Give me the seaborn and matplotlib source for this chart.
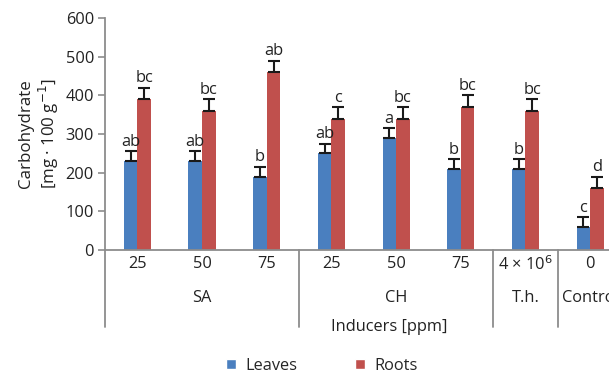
import matplotlib
matplotlib.use("Agg")
import matplotlib.pyplot as plt
import seaborn as sns
import pandas as pd
from matplotlib.patches import Patch

# ---- data ----
categories = ["SA 25", "SA 50", "SA 75", "CH 25", "CH 50", "CH 75", "T.h.", "Control"]
tick_labels = ["25", "50", "75", "25", "50", "75", r"4 × 10$^{6}$", "0"]
groups = ["SA", "CH", "T.h.", "Control"]
group_sizes = [3, 3, 1, 1]
leaves = [230, 230, 190, 250, 290, 210, 210, 60]
roots = [390, 360, 460, 340, 340, 370, 360, 160]
leaves_err = [25, 25, 25, 25, 25, 25, 25, 25]
roots_err = [30, 30, 30, 30, 30, 30, 30, 30]
leaves_letters = ["ab", "ab", "b", "ab", "a", "b", "b", "c"]
roots_letters = ["bc", "bc", "ab", "c", "bc", "bc", "bc", "d"]
series = ["Leaves", "Roots"]

df = pd.DataFrame({
    "cat": categories * 2,
    "val": leaves + roots,
    "series": ["Leaves"] * len(categories) + ["Roots"] * len(categories),
})

sns.set_theme(style="white")
plt.rcParams["font.family"] = ["Open Sans", "DejaVu Sans"]

BLUE = "#4a7fbf"
RED = "#c0504d"
GRAY = "#8c8c8c"
TXT = "#222222"
FS = 11.8

fig = plt.figure(figsize=(6.09, 3.74), dpi=100)
ax = fig.add_axes([105 / 609, 124 / 374, 517.5 / 609, 232 / 374])

sns.barplot(data=df, x="cat", y="val", hue="series", order=categories,
            hue_order=series, palette=[BLUE, RED], width=0.42, gap=0,
            errorbar=None, legend=False, ax=ax, saturation=1, edgecolor="none")

ax.set_ylim(0, 600)
ax.set_xlim(-0.5, 7.5)
ax.set_yticks(range(0, 601, 100))
ax.tick_params(axis="y", which="both", left=True, length=5, width=1.2, color=GRAY,
               labelsize=FS, labelcolor=TXT, pad=3)
ax.set_xticks(range(len(categories)))
ax.set_xticklabels(tick_labels)
ax.tick_params(axis="x", length=0, labelsize=FS, labelcolor=TXT, pad=4)
for s in ["top", "right"]:
    ax.spines[s].set_visible(False)
for s in ["left", "bottom"]:
    ax.spines[s].set_color(GRAY)
    ax.spines[s].set_linewidth(1.3)
ax.set_xlabel("")
ax.set_ylabel("Carbohydrate\n[mg · 100 g$^{-1}$]", fontsize=FS + 0.4, color=TXT,
              labelpad=3, linespacing=1.15)

# error bars and letters using bar positions
n = len(categories)
bars = [p for p in ax.patches if p.get_height() > 0]
leaf_bars = bars[:n]
root_bars = bars[n:2 * n]
for blist, errs, letters in [(leaf_bars, leaves_err, leaves_letters),
                             (root_bars, roots_err, roots_letters)]:
    for b, e, l in zip(blist, errs, letters):
        xc = b.get_x() + b.get_width() / 2
        h = b.get_height()
        ax.errorbar(xc, h, yerr=[[0], [e]], fmt="none", ecolor="#1a1a1a",
                    elinewidth=1.5, capsize=4, capthick=1.5)
        ax.annotate(l, (xc, h + e), xytext=(0, 1.0), textcoords="offset points",
                    ha="center", va="bottom", fontsize=FS, color=TXT)

# group separators and labels
trans = ax.get_xaxis_transform()
bounds = [-0.5]
for g in group_sizes:
    bounds.append(bounds[-1] + g)
for bx in bounds[:-1]:
    ax.plot([bx, bx], [0, -0.33], transform=trans, color=GRAY, lw=1.3, clip_on=False)
for i, g in enumerate(groups):
    xc = (bounds[i] + bounds[i + 1]) / 2
    ax.text(xc, -0.205, g, transform=trans, ha="center", va="center",
            fontsize=FS, color=TXT)
ax.text(3.9, -0.33, "Inducers [ppm]", transform=trans, ha="center", va="center",
        fontsize=FS, color=TXT)

handles = [Patch(facecolor=BLUE, label="Leaves"), Patch(facecolor=RED, label="Roots")]
fig.legend(handles=handles, loc="center", bbox_to_anchor=(322 / 609, 1 - 366 / 374),
           ncol=2, frameon=False, fontsize=FS, handlelength=0.6, handleheight=0.6,
           columnspacing=3.5, handletextpad=0.6)

fig.savefig("out.png", dpi=100)
